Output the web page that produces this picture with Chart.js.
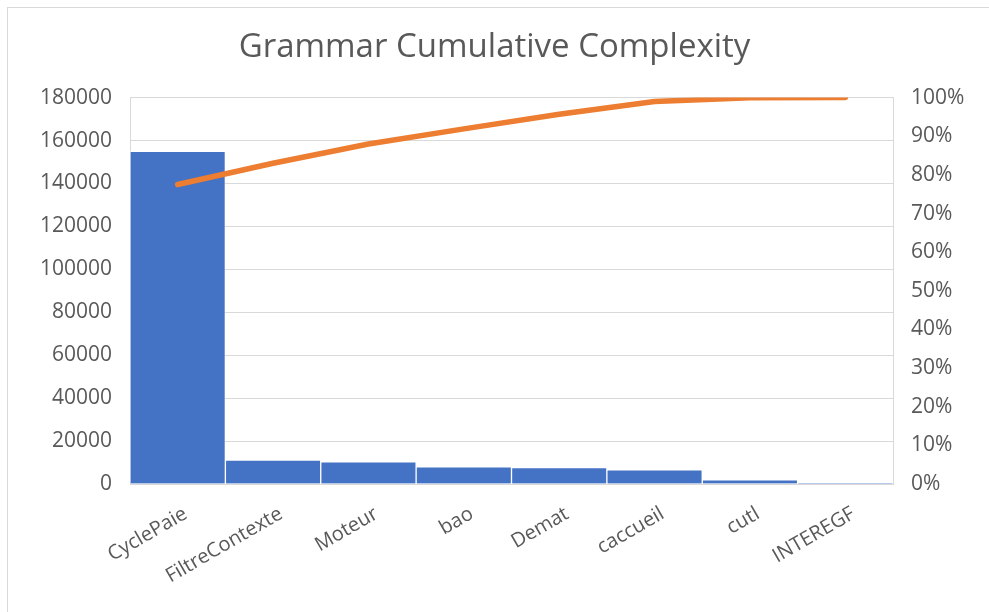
<!DOCTYPE html>
<html>
<head>
<meta charset="utf-8">
<script src="https://cdn.jsdelivr.net/npm/chart.js@4.4.1/dist/chart.umd.min.js"></script>
<style>
  html, body { margin: 0; padding: 0; background: #ffffff; }
  #wrap { position: relative; width: 989px; height: 612px; overflow: hidden; }
  #frame { position: absolute; left: 7px; top: 7px; width: 1200px; height: 900px;
           border-left: 1px solid #d9d9d9; border-top: 1px solid #d9d9d9; }
  canvas { position: absolute; left: 0; top: 0; }
</style>
</head>
<body>
<div id="wrap">
  <div id="frame"></div>
  <canvas id="c" width="989" height="612"></canvas>
</div>
<script>
const categories = ['CyclePaie', 'FiltreContexte', 'Moteur', 'bao', 'Demat', 'caccueil', 'cutl', 'INTEREGF'];
const complexity = [155000, 11200, 10300, 8000, 7700, 6600, 2000, 30];
const cumulativePct = [0.775, 0.830, 0.880, 0.919, 0.957, 0.990, 0.9997, 1.0];
const leftTicks = [0, 20000, 40000, 60000, 80000, 100000, 120000, 140000, 160000, 180000];
const rightTicks = [0, 0.1, 0.2, 0.3, 0.4, 0.5, 0.6, 0.7, 0.8, 0.9, 1.0];

const FONT = "'Open Sans', 'Liberation Sans', sans-serif";
const TXT = '#595959';
const GRID = '#d9d9d9';

new Chart(document.getElementById('c'), {
  data: {
    labels: categories,
    datasets: [
      {
        type: 'line',
        label: 'Cumulative %',
        data: cumulativePct,
        yAxisID: 'y1',
        borderColor: '#ED7D31',
        borderWidth: 5.5,
        pointRadius: 0,
        borderCapStyle: 'round',
        borderJoinStyle: 'round',
        tension: 0,
        fill: false,
        order: 0
      },
      {
        type: 'bar',
        label: 'Complexity',
        data: complexity,
        yAxisID: 'y',
        backgroundColor: '#4472C4',
        borderColor: 'rgba(255,255,255,0.45)',
        borderWidth: 1,
        barPercentage: 1.0,
        categoryPercentage: 1.0,
        order: 1
      }
    ]
  },
  options: {
    responsive: false,
    animation: false,
    devicePixelRatio: 1,
    layout: { padding: { left: 0, right: 0, top: 0, bottom: 0 } },
    plugins: {
      legend: { display: false },
      tooltip: { enabled: false },
      title: {
        display: true,
        text: 'Grammar Cumulative Complexity',
        color: TXT,
        font: { family: FONT, size: 33, weight: 'normal' },
        padding: { top: 28, bottom: 30 }
      }
    },
    scales: {
      x: {
        grid: { display: false },
        border: { display: true, color: GRID, width: 1 },
        ticks: {
          color: TXT,
          font: { family: FONT, size: 20 },
          minRotation: 30,
          maxRotation: 30,
          padding: 10,
          labelOffset: 8,
          autoSkip: false
        },
        afterFit(scale) { scale.height = 612 - 484; }
      },
      y: {
        position: 'left',
        min: 0,
        max: 180000,
        afterBuildTicks(scale) { scale.ticks = leftTicks.map(v => ({ value: v })); },
        grid: { color: GRID, lineWidth: 1, drawTicks: false },
        border: { display: true, color: GRID, width: 1 },
        ticks: {
          color: TXT,
          font: { family: FONT, size: 21 },
          padding: 18,
          callback: v => String(v)
        },
        afterFit(scale) { scale.width = 130; }
      },
      y1: {
        position: 'right',
        min: 0,
        max: 1,
        afterBuildTicks(scale) { scale.ticks = rightTicks.map(v => ({ value: v })); },
        grid: { drawOnChartArea: false, drawTicks: false },
        border: { display: true, color: GRID, width: 1 },
        ticks: {
          color: TXT,
          font: { family: FONT, size: 21 },
          padding: 18,
          callback: v => Math.round(v * 100) + '%'
        },
        afterFit(scale) { scale.width = 989 - 893; }
      }
    }
  }
});
</script>
</body>
</html>
